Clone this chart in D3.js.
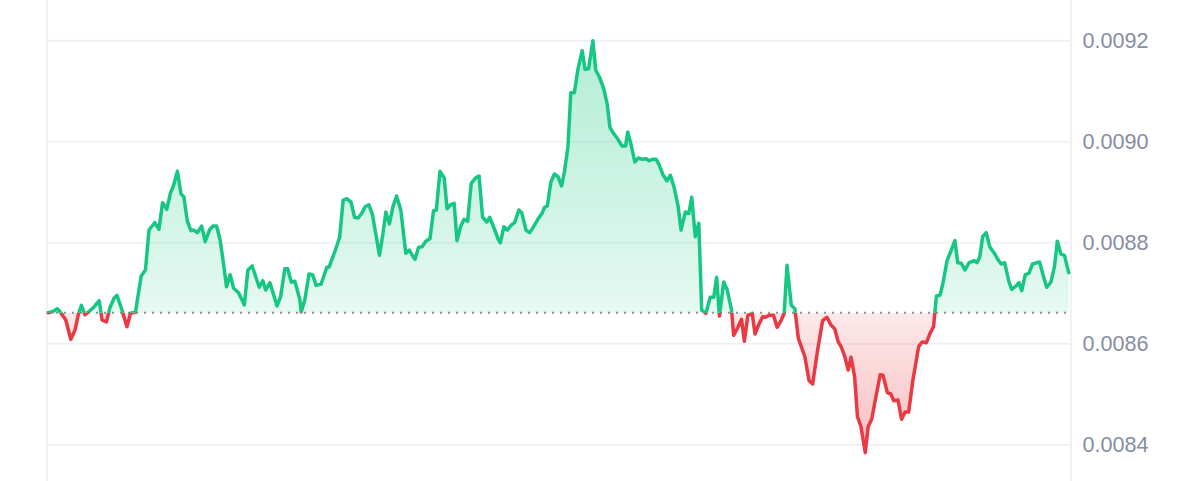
<!DOCTYPE html>
<html><head><meta charset="utf-8">
<script src="https://cdn.jsdelivr.net/npm/d3@7"></script>
<style>html,body{margin:0;padding:0;background:#fff;overflow:hidden}</style>
</head><body><svg id="chart" width="1200" height="481"></svg>
<script>
// minutes from start of the 24h window
const minutes = [0,7,13,18,25,32,38,43,47,52,
58,65,72,76,82,87,93,97,104,111,
116,123,131,137,142,150,156,161,167,172,
176,182,187,191,196,201,205,210,216,221,
227,232,237,242,246,251,256,261,268,276,
281,287,297,302,306,312,322,327,333,337,
342,347,354,356,361,367,372,377,384,392,
395,404,410,415,420,426,431,436,441,446,
451,456,466,471,475,480,485,490,496,503,
508,512,516,521,526,531,537,542,546,551,
557,561,566,571,575,580,585,590,595,601,
606,611,617,621,627,633,636,641,646,651,
656,662,666,672,677,681,688,695,698,702,
707,712,717,722,726,731,735,740,745,751,
755,760,766,770,775,781,786,790,795,800,
807,812,815,820,825,830,836,841,845,850,
855,859,865,870,875,880,886,890,896,901,
905,910,915,919,925,931,936,940,944,950,
955,961,964,970,975,979,984,990,994,1000,
1005,1009,1014,1020,1025,1031,1035,1039,1045,1050,
1055,1064,1070,1075,1082,1089,1095,1101,1106,1111,
1115,1120,1125,1129,1134,1138,1143,1149,1153,1158,
1164,1170,1174,1180,1185,1189,1195,1200,1205,1210,
1216,1224,1229,1235,1240,1245,1249,1254,1258,1264,
1270,1275,1279,1284,1289,1295,1302,1306,1310,1314,
1319,1324,1330,1336,1340,1345,1351,1355,1361,1365,
1369,1374,1379,1384,1389,1394,1399,1404,1410,1415,
1419,1424,1429,1435];

const prices = [0.0086614,0.0086638,0.0086693,0.0086614,0.0086469,0.0086087,0.0086271,0.0086602,0.0086760,0.0086574,
0.0086642,0.0086733,0.0086851,0.0086469,0.0086430,0.0086707,0.0086905,0.0086958,0.0086667,0.0086337,
0.0086602,0.0086628,0.0087341,0.0087459,0.0088251,0.0088396,0.0088265,0.0088792,0.0088661,0.0088978,
0.0089109,0.0089414,0.0088964,0.0088911,0.0088416,0.0088238,0.0088251,0.0088198,0.0088331,0.0088020,
0.0088251,0.0088331,0.0088331,0.0088053,0.0087657,0.0087129,0.0087366,0.0087097,0.0087010,0.0086766,
0.0087459,0.0087539,0.0087117,0.0087248,0.0087063,0.0087208,0.0086747,0.0086931,0.0087485,0.0087485,
0.0087222,0.0087236,0.0086879,0.0086628,0.0086865,0.0087380,0.0087366,0.0087156,0.0087182,0.0087513,
0.0087513,0.0087855,0.0088107,0.0088845,0.0088871,0.0088806,0.0088503,0.0088489,0.0088582,0.0088713,
0.0088752,0.0088568,0.0087750,0.0088186,0.0088608,0.0088370,0.0088713,0.0088925,0.0088647,0.0087790,
0.0087855,0.0087750,0.0087671,0.0087909,0.0087921,0.0088028,0.0088079,0.0088634,0.0088647,0.0089414,
0.0089281,0.0088673,0.0088752,0.0088780,0.0088040,0.0088317,0.0088463,0.0088424,0.0089176,0.0089281,
0.0089321,0.0088503,0.0088410,0.0088503,0.0088291,0.0088067,0.0088000,0.0088317,0.0088251,0.0088345,
0.0088396,0.0088647,0.0088594,0.0088251,0.0088198,0.0088277,0.0088449,0.0088594,0.0088701,0.0088727,
0.0089202,0.0089360,0.0089307,0.0089123,0.0089400,0.0089901,0.0090970,0.0090970,0.0091434,0.0091802,
0.0091434,0.0091446,0.0092000,0.0091420,0.0091287,0.0091063,0.0090760,0.0090285,0.0090166,0.0090073,
0.0089915,0.0089915,0.0090192,0.0089929,0.0089598,0.0089677,0.0089651,0.0089663,0.0089624,0.0089651,
0.0089651,0.0089545,0.0089335,0.0089228,0.0089335,0.0089109,0.0088713,0.0088251,0.0088608,0.0088582,
0.0088899,0.0088119,0.0088384,0.0086667,0.0086602,0.0086919,0.0086919,0.0087315,0.0086548,0.0087222,
0.0087063,0.0086667,0.0086166,0.0086325,0.0086483,0.0086047,0.0086562,0.0086602,0.0086192,0.0086404,
0.0086535,0.0086523,0.0086562,0.0086562,0.0086325,0.0086469,0.0086602,0.0087552,0.0086760,0.0086693,
0.0086099,0.0085747,0.0085267,0.0085202,0.0085875,0.0086455,0.0086523,0.0086364,0.0086297,0.0086034,
0.0085941,0.0085756,0.0085479,0.0085731,0.0085347,0.0084554,0.0084356,0.0083842,0.0084356,0.0084503,
0.0084950,0.0085386,0.0085374,0.0085030,0.0085004,0.0084871,0.0084885,0.0084503,0.0084648,0.0084648,
0.0085281,0.0085941,0.0086034,0.0086020,0.0086206,0.0086337,0.0086945,0.0086958,0.0087182,0.0087644,
0.0087855,0.0088040,0.0087604,0.0087592,0.0087459,0.0087604,0.0087644,0.0087604,0.0087723,0.0088119,
0.0088198,0.0087921,0.0087802,0.0087657,0.0087578,0.0087604,0.0087222,0.0087077,0.0087143,0.0087208,
0.0087049,0.0087366,0.0087394,0.0087578,0.0087598,0.0087618,0.0087360,0.0087117,0.0087222,0.0087525,
0.0088028,0.0087776,0.0087750,0.0087406];

const yTicks = [0.0084, 0.0086, 0.0088, 0.0090, 0.0092];
const tickLabels = ["0.0084", "0.0086", "0.0088", "0.0090", "0.0092"];

const W = 1200, H = 481;
const plotLeft = 47, plotRight = 1071;
const up = "#16c784", down = "#ea3943";

const data = minutes.map((m, i) => ({ m, p: prices[i] }));
const base = prices[0];

const x = d3.scaleLinear().domain([0, d3.max(minutes)]).range([48, 1068.7]);
const y = d3.scaleLinear().domain([0.0084, 0.0092]).range([444.7, 40.7]);

const svg = d3.select("#chart");
const defs = svg.append("defs");

const yb = y(base);
defs.append("clipPath").attr("id", "clipUp").append("rect")
  .attr("x", 0).attr("y", 0).attr("width", W).attr("height", yb);
defs.append("clipPath").attr("id", "clipDown").append("rect")
  .attr("x", 0).attr("y", yb).attr("width", W).attr("height", H - yb);

const gUp = defs.append("linearGradient").attr("id", "gradUp")
  .attr("gradientUnits", "userSpaceOnUse").attr("x1", 0).attr("x2", 0)
  .attr("y1", y(d3.max(prices))).attr("y2", yb);
gUp.append("stop").attr("offset", 0).attr("stop-color", up).attr("stop-opacity", 0.33);
gUp.append("stop").attr("offset", 1).attr("stop-color", up).attr("stop-opacity", 0.11);

const gDown = defs.append("linearGradient").attr("id", "gradDown")
  .attr("gradientUnits", "userSpaceOnUse").attr("x1", 0).attr("x2", 0)
  .attr("y1", yb).attr("y2", y(d3.min(prices)));
gDown.append("stop").attr("offset", 0).attr("stop-color", down).attr("stop-opacity", 0.11);
gDown.append("stop").attr("offset", 1).attr("stop-color", down).attr("stop-opacity", 0.33);

// grid
svg.append("g").selectAll("line").data(yTicks).join("line")
  .attr("x1", plotLeft).attr("x2", plotRight)
  .attr("y1", d => y(d)).attr("y2", d => y(d))
  .attr("stroke", "#eff1f3").attr("stroke-width", 2);
svg.append("g").selectAll("line").data([plotLeft, plotRight]).join("line")
  .attr("x1", d => d).attr("x2", d => d).attr("y1", 0).attr("y2", H)
  .attr("stroke", "#eff1f3").attr("stroke-width", 2);

// areas
const area = d3.area().x(d => x(d.m)).y0(yb).y1(d => y(d.p));
svg.append("path").datum(data).attr("d", area).attr("fill", "url(#gradUp)").attr("clip-path", "url(#clipUp)");
svg.append("path").datum(data).attr("d", area).attr("fill", "url(#gradDown)").attr("clip-path", "url(#clipDown)");

// baseline
svg.append("line").attr("x1", x(0)).attr("x2", x(d3.max(minutes)))
  .attr("y1", yb).attr("y2", yb)
  .attr("stroke", "#8e9197").attr("stroke-width", 2).attr("stroke-dasharray", "2,6");

// lines
const line = d3.line().x(d => x(d.m)).y(d => y(d.p));
svg.append("path").datum(data).attr("d", line).attr("fill", "none")
  .attr("stroke", up).attr("stroke-width", 3.5).attr("stroke-linejoin", "round").attr("stroke-linecap", "round")
  .attr("clip-path", "url(#clipUp)");
svg.append("path").datum(data).attr("d", line).attr("fill", "none")
  .attr("stroke", down).attr("stroke-width", 3.5).attr("stroke-linejoin", "round").attr("stroke-linecap", "round")
  .attr("clip-path", "url(#clipDown)");

// labels
svg.append("g").selectAll("text").data(yTicks).join("text")
  .attr("x", 1082.5).attr("y", d => y(d))
  .attr("dominant-baseline", "central")
  .attr("font-family", "'Liberation Sans', Arial, Helvetica, sans-serif")
  .attr("font-size", 21.6).attr("fill", "#868da2")
  .text((d, i) => tickLabels[i]);
</script>
</body></html>
